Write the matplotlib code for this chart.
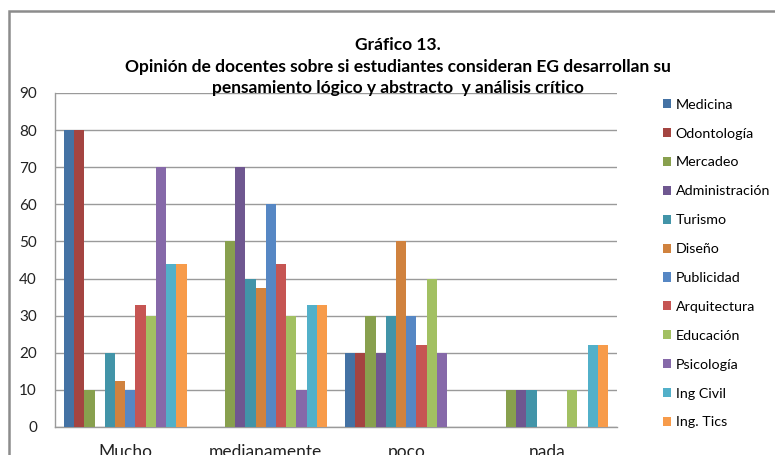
import matplotlib.pyplot as plt
import numpy as np
from matplotlib.patches import Rectangle

plt.rcParams['font.family'] = ['Lato', 'DejaVu Sans']

categories = ["Mucho", "medianamente", "poco", "nada"]
series_names = ["Medicina", "Odontología", "Mercadeo", "Administración", "Turismo",
                "Diseño", "Publicidad", "Arquitectura", "Educación", "Psicología",
                "Ing Civil", "Ing. Tics"]
medicina = [80, 0, 20, 0]
odontologia = [80, 0, 20, 0]
mercadeo = [10, 50, 30, 10]
administracion = [0, 70, 20, 10]
turismo = [20, 40, 30, 10]
diseno = [12.5, 37.5, 50, 0]
publicidad = [10, 60, 30, 0]
arquitectura = [33, 44, 22, 0]
educacion = [30, 30, 40, 10]
psicologia = [70, 10, 20, 0]
ing_civil = [44, 33, 0, 22]
ing_tics = [44, 33, 0, 22]
series_values = [medicina, odontologia, mercadeo, administracion, turismo, diseno,
                 publicidad, arquitectura, educacion, psicologia, ing_civil, ing_tics]
colors = ["#4472A4", "#A44441", "#88A04E", "#6F5790", "#4294A8", "#D0823E",
          "#5687C4", "#C65553", "#A2C062", "#8669A9", "#52B0C9", "#F79B4A"]

fig = plt.figure(figsize=(7.75, 4.55), dpi=100)
fig.patches.append(Rectangle((9 / 775, -0.1), 1.2, 1 - 11 / 455 + 0.1,
                             transform=fig.transFigure, fill=False,
                             edgecolor="#8c8c8c", linewidth=1.8))
ax = fig.add_axes([55 / 775, 1 - 427 / 455, (617 - 55) / 775, (427 - 93) / 455])

n = len(series_values)
group_w = 0.875
bw = group_w / n
x = np.arange(len(categories))
for i, (name, vals) in enumerate(zip(series_names, series_values)):
    offs = -group_w / 2 + bw * (i + 0.5)
    ax.bar(x + offs, vals, width=bw, color=colors[i], label=name, zorder=3,
           linewidth=0)

ax.set_xlim(-0.5, len(categories) - 0.5)
ax.set_ylim(0, 90)
ax.set_yticks(range(0, 91, 10))
ax.set_xticks(x)
ax.set_xticklabels(categories, fontsize=12.5)
ax.tick_params(axis='both', length=0, colors="#222222")
ax.tick_params(axis='y', pad=13, labelsize=11)
ax.tick_params(axis='x', pad=12)
ax.grid(axis='y', color="#9a9a9a", linewidth=1, zorder=0)
for s in ["top", "right"]:
    ax.spines[s].set_visible(False)
for s in ["left", "bottom"]:
    ax.spines[s].set_color("#9a9a9a")
    ax.spines[s].set_linewidth(1)

title_x = 398 / 775
fig.text(title_x, 1 - 45 / 455, "Gráfico 13.", ha="center", va="center",
         fontsize=12.5, fontweight="bold")
fig.text(title_x, 1 - 67 / 455,
         "Opinión de docentes sobre si estudiantes consideran EG desarrollan su",
         ha="center", va="center", fontsize=12.5, fontweight="bold")
fig.text(title_x, 1 - 88 / 455,
         "pensamiento lógico y abstracto  y análisis crítico",
         ha="center", va="center", fontsize=12.5, fontweight="bold")

fig.legend(loc="upper left", bbox_to_anchor=(657 / 775, 1 - 93 / 455),
           frameon=False, fontsize=10.3, handlelength=0.6, handleheight=0.6,
           handletextpad=0.3, labelspacing=1.18, borderaxespad=0)

fig.savefig("out.png", dpi=100)
